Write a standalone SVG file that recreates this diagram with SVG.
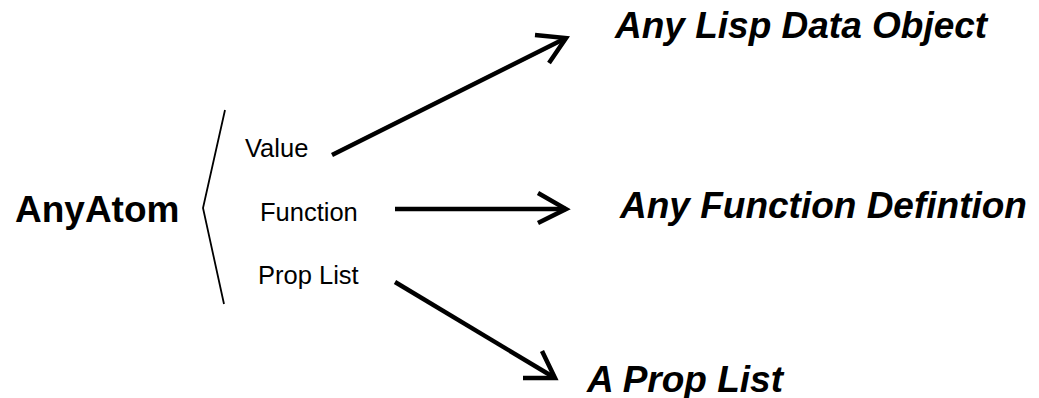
<svg xmlns="http://www.w3.org/2000/svg" width="1039" height="398" viewBox="0 0 1039 398">
  <style>
    .root { font-family: "Liberation Sans", Arial, sans-serif; font-size: 37px; font-weight: bold; fill: #000; }
    .slot { font-family: "Liberation Sans", Arial, sans-serif; font-size: 25.5px; fill: #000; }
    .target { font-family: "Liberation Sans", Arial, sans-serif; font-size: 37px; font-weight: bold; font-style: italic; fill: #000; }
    .brace { fill: none; stroke: #000; stroke-width: 1.8; }
    .link { fill: none; stroke: #000; stroke-width: 4.5; stroke-linecap: butt; stroke-linejoin: miter; }
  </style>
  <rect width="1039" height="398" fill="#fff"/>

  <g id="any-atom">
    <text class="root" x="15" y="222">AnyAtom</text>
    <polyline class="brace" points="225,110 203,208 224,304"/>
  </g>

  <g id="value">
    <text class="slot" x="245" y="157">Value</text>
  </g>
  <g id="function">
    <text class="slot" x="260" y="221">Function</text>
  </g>
  <g id="prop-list">
    <text class="slot" x="258" y="284">Prop List</text>
  </g>

  <g id="lisp-data-object">
    <text class="target" x="615" y="38">Any Lisp Data Object</text>
  </g>
  <g id="function-definition">
    <text class="target" x="620" y="218">Any Function Defintion</text>
  </g>
  <g id="a-prop-list">
    <text class="target" x="587" y="392">A Prop List</text>
  </g>

  <g id="connectors">
    <line class="link" x1="332" y1="155" x2="566" y2="38"/>
    <polyline class="link" points="535,35 566,38 549,63"/>
    <line class="link" x1="395" y1="209" x2="566" y2="209"/>
    <polyline class="link" points="538,193 566,209 538,223"/>
    <line class="link" x1="395" y1="282" x2="555" y2="378"/>
    <polyline class="link" points="523,378 555,378 542,351"/>
  </g>
</svg>
